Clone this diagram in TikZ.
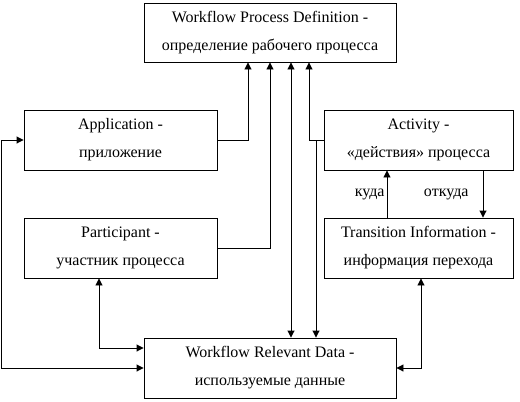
\documentclass[tikz,border=0pt]{standalone}
\usepackage{fontspec}
\setmainfont{Liberation Serif}
\usetikzlibrary{arrows.meta}
\begin{document}
\begin{tikzpicture}[x=1pt,y=-1pt,
  box/.style={draw, line width=0.9pt, inner sep=0pt, align=center,
    font=\fontsize{16}{28}\selectfont},
  wire/.style={line width=0.9pt},
  tip/.style={wire, -{Triangle[length=7pt,width=7pt]}},
  tips/.style={wire, {Triangle[length=7pt,width=7pt]}-{Triangle[length=7pt,width=7pt]}},
  lbl/.style={font=\fontsize{16}{18}\selectfont, inner sep=2pt}]
\useasboundingbox (0,0) rectangle (520,402);
\node[box, minimum width=252pt, minimum height=59pt] (wpd) at (270,32.5)
  {Workflow Process Definition -\\определение рабочего процесса};
\node[box, minimum width=193pt, minimum height=60pt] (app) at (120.5,140)
  {Application -\\приложение};
\node[box, minimum width=189pt, minimum height=60pt] (act) at (418.5,140)
  {Activity -\\«действия» процесса};
\node[box, minimum width=193pt, minimum height=60pt] (par) at (120.5,248)
  {Participant -\\участник процесса};
\node[box, minimum width=189pt, minimum height=60pt] (tra) at (418.5,248)
  {Transition Information -\\информация перехода};
\node[box, minimum width=252pt, minimum height=60pt] (wrd) at (270,368)
  {Workflow Relevant Data -\\используемые данные};
% to process definition
\draw[tip] (app.east) -| ([xshift=-22pt]wpd.south);
\draw[tip] (par.east) -| (wpd.south);
\draw[tips] ([xshift=21pt]wpd.south) -- ([xshift=21pt]wrd.north);
\draw[tip] (act.west) -| ([xshift=39pt]wpd.south);
\draw[tip] (act.west) -| ([xshift=46pt]wrd.north);
% to relevant data
\draw[tips] (app.west) -- ++(-22.5pt,0) |- (wrd.west);
\draw[tips] ([xshift=-21.5pt]par.south) |- ([yshift=20pt]wrd.west);
\draw[tips] ([xshift=2.5pt]tra.south) |- (wrd.east);
% activity <-> transition
\draw[tip] ([xshift=-31.5pt]tra.north) -- node[lbl, left] {куда} ([xshift=-31.5pt]act.south);
\draw[tip] ([xshift=64.5pt]act.south) -- node[lbl, left, xshift=-12pt] {откуда} ([xshift=64.5pt]tra.north);
\end{tikzpicture}
\end{document}
